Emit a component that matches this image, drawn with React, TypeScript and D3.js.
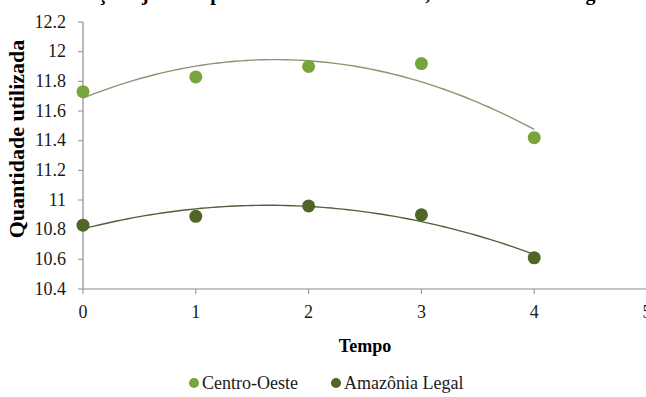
import * as d3 from 'd3';
import { useEffect, useRef } from 'react';

// dados
const tempo = [0, 1, 2, 3, 4];
const centroOeste = [11.73, 11.83, 11.9, 11.92, 11.42];
const amazoniaLegal = [10.83, 10.89, 10.96, 10.9, 10.61];
const yTicks = [10.4, 10.6, 10.8, 11, 11.2, 11.4, 11.6, 11.8, 12, 12.2];
const xTicks = [0, 1, 2, 3, 4, 5];

const series = [
    { name: 'Centro-Oeste', values: centroOeste, color: '#79a33c', trend: '#8b9470' },
    { name: 'Amazônia Legal', values: amazoniaLegal, color: '#4f6625', trend: '#535e3a' },
];

// ajuste polinomial de grau 2 (linha de tendência)
function polyFit2(xs: number[], ys: number[]) {
    const n = xs.length;
    let sx = 0, sx2 = 0, sx3 = 0, sx4 = 0, sy = 0, sxy = 0, sx2y = 0;
    for (let i = 0; i < n; i++) {
        const x = xs[i], y = ys[i];
        sx += x; sx2 += x * x; sx3 += x ** 3; sx4 += x ** 4;
        sy += y; sxy += x * y; sx2y += x * x * y;
    }
    // resolver sistema 3x3 (Cramer)
    const m = [[n, sx, sx2], [sx, sx2, sx3], [sx2, sx3, sx4]];
    const r = [sy, sxy, sx2y];
    const det = (a: number[][]) =>
        a[0][0] * (a[1][1] * a[2][2] - a[1][2] * a[2][1]) -
        a[0][1] * (a[1][0] * a[2][2] - a[1][2] * a[2][0]) +
        a[0][2] * (a[1][0] * a[2][1] - a[1][1] * a[2][0]);
    const D = det(m);
    const coef = [0, 1, 2].map(c => det(m.map((row, i) => row.map((v, j) => (j === c ? r[i] : v)))) / D);
    return (x: number) => coef[0] + coef[1] * x + coef[2] * x * x;
}

function App() {
    const ref = useRef<SVGSVGElement>(null);

    useEffect(() => {
        const width = 646, height = 397;
        const svg = d3.select(ref.current);
        svg.selectAll('*').remove();

        const x = d3.scaleLinear().domain([0, 5]).range([83, 647]);
        const y = d3.scaleLinear().domain([10.4, 12.2]).range([289, 22]);
        const font = "'Liberation Serif'";

        svg.append('rect').attr('width', width).attr('height', height).attr('fill', '#fff');

        // título (cortado no topo)
        svg.append('text')
            .attr('x', 48).attr('y', 0)
            .style('font-family', font).style('font-weight', 'bold').style('font-size', '20px')
            .text('Evolução ajustada pelo modelo de tendência, Centro-Oeste e região amazônica');

        // eixos
        const axisColor = '#8c8c8c';
        svg.append('line').attr('x1', x(0)).attr('x2', width).attr('y1', y(10.4)).attr('y2', y(10.4))
            .attr('stroke', axisColor).attr('stroke-width', 1.2);
        svg.append('line').attr('x1', x(0)).attr('x2', x(0)).attr('y1', y(10.4)).attr('y2', y(12.2))
            .attr('stroke', axisColor).attr('stroke-width', 1.2);

        const yt = svg.append('g').selectAll('g').data(yTicks).join('g');
        yt.append('line').attr('x1', x(0) - 5).attr('x2', x(0)).attr('y1', d => y(d)).attr('y2', d => y(d))
            .attr('stroke', axisColor);
        yt.append('text').attr('x', 66).attr('y', d => y(d) + 5.5).attr('text-anchor', 'end')
            .style('font-family', font).style('font-size', '18px').attr('fill', '#1a1a1a')
            .text(d => String(d));

        const xt = svg.append('g').selectAll('g').data(xTicks).join('g');
        xt.append('line').attr('x1', d => x(d)).attr('x2', d => x(d)).attr('y1', y(10.4)).attr('y2', y(10.4) + 5)
            .attr('stroke', axisColor);
        xt.append('text').attr('x', d => x(d)).attr('y', 318).attr('text-anchor', 'middle')
            .style('font-family', font).style('font-size', '18px').attr('fill', '#1a1a1a')
            .text(d => String(d));

        // títulos dos eixos
        svg.append('text').attr('x', 365).attr('y', 352).attr('text-anchor', 'middle')
            .style('font-family', font).style('font-weight', 'bold').style('font-size', '18px').text('Tempo');
        svg.append('text').attr('transform', 'translate(24,139) rotate(-90)').attr('text-anchor', 'middle')
            .style('font-family', font).style('font-weight', 'bold').style('font-size', '22px').text('Quantidade utilizada');

        // linhas de tendência
        series.forEach(s => {
            const f = polyFit2(tempo, s.values);
            const xs = d3.range(0, 4.0001, 0.05);
            svg.append('path').datum(xs)
                .attr('d', d3.line<number>().x(d => x(d)).y(d => y(f(d))))
                .attr('fill', 'none').attr('stroke', s.trend).attr('stroke-width', 1.4);
        });

        // pontos
        series.forEach(s => {
            svg.append('g').selectAll('circle').data(s.values).join('circle')
                .attr('cx', (_, i) => x(tempo[i])).attr('cy', d => y(d)).attr('r', 6.5)
                .attr('fill', s.color);
        });

        // legenda
        const legendX = [194, 336];
        series.forEach((s, i) => {
            svg.append('circle').attr('cx', legendX[i]).attr('cy', 383).attr('r', 5).attr('fill', s.color);
            svg.append('text').attr('x', legendX[i] + 8).attr('y', 389)
                .style('font-family', font).style('font-size', '18px').attr('fill', '#1a1a1a').text(s.name);
        });
    }, []);

    return (
        <svg ref={ref} width={646} height={397} style={{ position: 'absolute', left: 0, top: 0 }} />
    );
}

export default App;
